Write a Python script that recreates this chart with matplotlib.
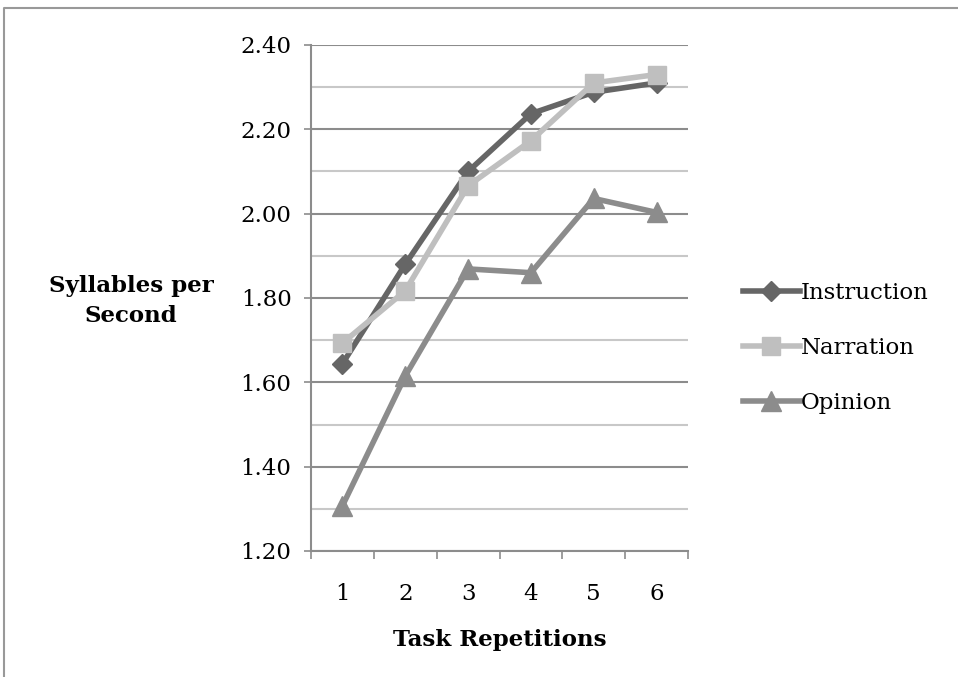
import numpy as np
import matplotlib.pyplot as plt
from matplotlib.lines import Line2D
from matplotlib.ticker import MultipleLocator

# values
reps = [1, 2, 3, 4, 5, 6]
instruction = [1.644, 1.880, 2.100, 2.237, 2.288, 2.310]
narration = [1.693, 1.817, 2.066, 2.173, 2.310, 2.330]
opinion = [1.307, 1.615, 1.869, 1.860, 2.036, 2.003]
series_names = ["Instruction", "Narration", "Opinion"]

plt.rcParams['font.family'] = ['DejaVu Serif']
fs = 16.5

fig = plt.figure(figsize=(9.58, 6.77), dpi=100)
ax = fig.add_axes([311/958, 1-551/677, (688-311)/958, (551-45)/677])

major_c = '#8c8c8c'
minor_c = '#c8c8c8'

ax.set_xlim(0.5, 6.5)
ax.set_ylim(1.2, 2.4)
ax.yaxis.set_major_locator(MultipleLocator(0.2))
ax.yaxis.set_minor_locator(MultipleLocator(0.1))
ax.yaxis.grid(True, which='major', color=major_c, lw=1.5)
ax.yaxis.grid(True, which='minor', color=minor_c, lw=1.5)
ax.set_axisbelow(True)
ax.tick_params(axis='y', which='minor', length=0)
ax.tick_params(axis='y', which='major', length=5, color=major_c, width=1.2,
               labelsize=fs, pad=9)
ax.set_yticklabels(["%.2f" % v for v in ax.get_yticks()])

ax.set_xticks(reps)
ax.set_xticks(np.arange(0.5, 7, 1), minor=True)
ax.tick_params(axis='x', which='major', length=0, labelsize=fs, pad=23)
ax.tick_params(axis='x', which='minor', length=6, color=major_c, width=1.2)

for s in ['top', 'right']:
    ax.spines[s].set_visible(False)
for s in ['left', 'bottom']:
    ax.spines[s].set_color(major_c)
    ax.spines[s].set_linewidth(1.5)

ax.plot(reps, instruction, color='#666666', lw=4, marker='D', ms=10,
        label=series_names[0], zorder=3)
ax.plot(reps, narration, color='#bfbfbf', lw=4, marker='s', ms=13,
        label=series_names[1], zorder=3)
ax.plot(reps, opinion, color='#8c8c8c', lw=4, marker='^', ms=14,
        label=series_names[2], zorder=3)

ax.set_xlabel("Task Repetitions", fontsize=fs, fontweight='bold', labelpad=17)
fig.text(131/958, 1-301/677, "Syllables per\nSecond", fontsize=fs,
         fontweight='bold', ha='center', va='center', linespacing=1.45)

ax.legend(loc='center left', bbox_to_anchor=(722/958, 1-348/677),
          bbox_transform=fig.transFigure, frameon=False, fontsize=fs,
          handlelength=2.5, handletextpad=0.05, labelspacing=1.45)

# outer frame
fig.add_artist(Line2D([4/958, 4/958, 1], [0, 1-8/677, 1-8/677],
                      transform=fig.transFigure, color='#999999', lw=1.5))

fig.savefig("out.png", dpi=100)
